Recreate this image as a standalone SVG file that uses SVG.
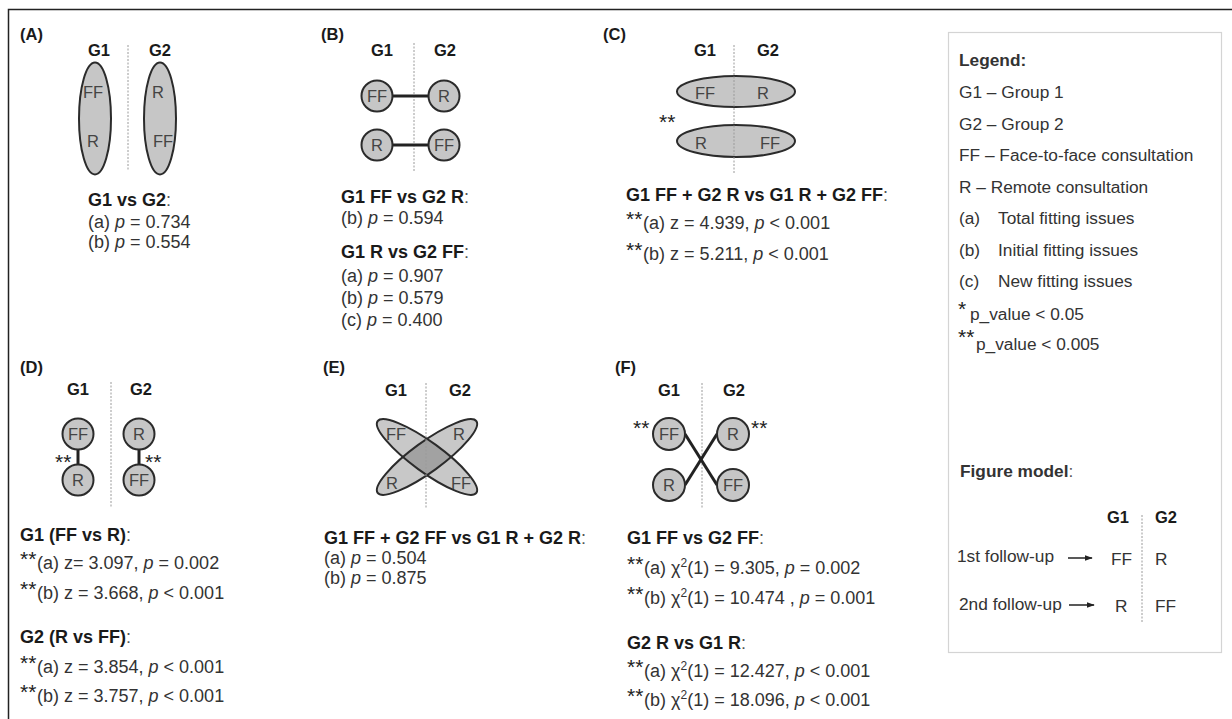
<svg xmlns="http://www.w3.org/2000/svg" width="1232" height="719" viewBox="0 0 1232 719">
<style>
text{font-family:"Liberation Sans",Arial,sans-serif;fill:#333}
.lab{font-size:16.5px;font-weight:bold;fill:#1a1a1a}
.hd{font-size:16.5px;font-weight:bold;fill:#1a1a1a;text-anchor:middle}
.nt{font-size:16.5px;fill:#444}
.ntm{font-size:16.5px;fill:#444;text-anchor:middle}
.tx{font-size:18px}
.ti{font-size:18px;font-weight:bold;fill:#1a1a1a}
.ti tspan.c{font-weight:normal;fill:#555}
.st{font-size:21px;fill:#222}
.lg{font-size:17.3px}
.node{fill:#c6c6c6;stroke:#2b2b2b;stroke-width:2}
.div{stroke:#9a9a9a;stroke-width:1;stroke-dasharray:2 1.5;fill:none}
.conn{stroke:#222;stroke-width:3;fill:none}
.it{font-style:italic}
</style>
<defs>
<marker id="ah" viewBox="0 0 10 10" refX="9" refY="5" markerWidth="8" markerHeight="8" markerUnits="userSpaceOnUse" orient="auto">
<path d="M0,1.5 L10,5 L0,8.5 Z" fill="#222"/>
</marker>
<clipPath id="clipE"><ellipse cx="427" cy="457" rx="61" ry="15" transform="rotate(36 427 457)"/></clipPath>
</defs>
<path d="M8.5,719 V9.5 H1232" fill="none" stroke="#222" stroke-width="1.5"/>

<g id="panelA">
<text class="lab" x="20" y="40">(A)</text>
<text class="hd" x="99" y="56">G1</text>
<text class="hd" x="160" y="56">G2</text>
<line class="div" x1="128" y1="45" x2="128" y2="170"/>
<g id="A-G1"><ellipse class="node" cx="95" cy="118.5" rx="16" ry="56"/><text class="nt" x="83" y="98">FF</text><text class="nt" x="87" y="147">R</text></g>
<g id="A-G2"><ellipse class="node" cx="160" cy="118.5" rx="16" ry="56"/><text class="nt" x="152" y="98">R</text><text class="nt" x="153" y="147">FF</text></g>
<text class="ti" x="88" y="206">G1 vs G2<tspan class="c">:</tspan></text>
<text class="tx" x="88" y="228">(a) <tspan class="it">p</tspan> = 0.734</text>
<text class="tx" x="88" y="248">(b) <tspan class="it">p</tspan> = 0.554</text>
</g>

<g id="panelB">
<text class="lab" x="321" y="40">(B)</text>
<text class="hd" x="382" y="56">G1</text>
<text class="hd" x="445" y="56">G2</text>
<line class="div" x1="414" y1="43" x2="414" y2="172"/>
<g id="B-conn"><line class="conn" x1="392" y1="96" x2="429" y2="96"/><line class="conn" x1="392" y1="145" x2="429" y2="145"/></g>
<g id="B-G1FF"><circle class="node" cx="377" cy="96" r="15.5"/><text class="ntm" x="377" y="102">FF</text></g>
<g id="B-G2R"><circle class="node" cx="444" cy="96" r="15.5"/><text class="ntm" x="444" y="102">R</text></g>
<g id="B-G1R"><circle class="node" cx="377" cy="145" r="15.5"/><text class="ntm" x="377" y="151">R</text></g>
<g id="B-G2FF"><circle class="node" cx="444" cy="145" r="15.5"/><text class="ntm" x="444" y="151">FF</text></g>
<text class="ti" x="341" y="203">G1 FF vs G2 R<tspan class="c">:</tspan></text>
<text class="tx" x="341" y="224">(b) <tspan class="it">p</tspan> = 0.594</text>
<text class="ti" x="341" y="258">G1 R vs G2 FF<tspan class="c">:</tspan></text>
<text class="tx" x="341" y="282">(a) <tspan class="it">p</tspan> = 0.907</text>
<text class="tx" x="341" y="304">(b) <tspan class="it">p</tspan> = 0.579</text>
<text class="tx" x="341" y="326">(c) <tspan class="it">p</tspan> = 0.400</text>
</g>

<g id="panelC">
<text class="lab" x="603" y="40">(C)</text>
<text class="hd" x="705" y="56">G1</text>
<text class="hd" x="768" y="56">G2</text>
<g id="C-top"><ellipse class="node" cx="736" cy="91.5" rx="59" ry="15.5"/><text class="nt" x="695" y="99">FF</text><text class="nt" x="757" y="99">R</text></g>
<g id="C-bot"><ellipse class="node" cx="736" cy="141" rx="59" ry="16"/><text class="nt" x="695" y="149">R</text><text class="nt" x="760" y="149">FF</text></g>
<line class="div" x1="734" y1="45" x2="734" y2="173"/>
<text class="st" x="659" y="129">**</text>
<text class="ti" x="626" y="201">G1 FF + G2 R vs G1 R + G2 FF<tspan class="c">:</tspan></text>
<text class="st" x="626" y="226">**</text><text class="tx" x="643" y="229">(a) z = 4.939,  <tspan class="it">p</tspan> &lt; 0.001</text>
<text class="st" x="626" y="257">**</text><text class="tx" x="643" y="260">(b) z = 5.211,  <tspan class="it">p</tspan> &lt; 0.001</text>
</g>

<g id="legend">
<rect x="948.5" y="32.5" width="273" height="620" fill="none" stroke="#d4d4d4" stroke-width="1.2"/>
<text class="lg" x="959" y="66" font-weight="bold" fill="#1a1a1a">Legend:</text>
<text class="lg" x="959" y="98">G1 – Group 1</text>
<text class="lg" x="959" y="130">G2 – Group 2</text>
<text class="lg" x="959" y="161">FF – Face-to-face consultation</text>
<text class="lg" x="959" y="193">R – Remote  consultation</text>
<text class="lg" x="959" y="224">(a)</text><text class="lg" x="998" y="224">Total  fitting  issues</text>
<text class="lg" x="959" y="256">(b)</text><text class="lg" x="998" y="256">Initial  fitting  issues</text>
<text class="lg" x="959" y="287">(c)</text><text class="lg" x="998" y="287">New  fitting  issues</text>
<text class="st" x="958" y="316">*</text><text class="lg" x="970" y="320">p_value  &lt; 0.05</text>
<text class="st" x="958" y="344">**</text><text class="lg" x="976" y="350">p_value  &lt; 0.005</text>
<text class="lg" x="960" y="477" font-weight="bold" fill="#1a1a1a">Figure model<tspan font-weight="normal" fill="#555">:</tspan></text>
<text class="hd" x="1118" y="523">G1</text>
<text class="hd" x="1166" y="523">G2</text>
<line class="div" x1="1142" y1="515" x2="1142" y2="623"/>
<text class="lg" x="957" y="562">1st follow-up</text>
<text class="lg" x="959" y="610">2nd follow-up</text>
<line x1="1068" y1="558" x2="1092" y2="558" stroke="#222" stroke-width="1.5" marker-end="url(#ah)"/>
<line x1="1069" y1="605" x2="1094" y2="605" stroke="#222" stroke-width="1.5" marker-end="url(#ah)"/>
<text class="lg" x="1111" y="565">FF</text><text class="lg" x="1155" y="565">R</text>
<text class="lg" x="1115" y="612">R</text><text class="lg" x="1155" y="612">FF</text>
</g>

<g id="panelD">
<text class="lab" x="20" y="373">(D)</text>
<text class="hd" x="78" y="395">G1</text>
<text class="hd" x="141" y="395">G2</text>
<line class="div" x1="111" y1="382" x2="111" y2="508"/>
<g id="D-conn"><line class="conn" x1="78" y1="449" x2="78" y2="465"/><line class="conn" x1="139" y1="449" x2="139" y2="465"/></g>
<g id="D-G1FF"><circle class="node" cx="78" cy="434" r="15.5"/><text class="ntm" x="78" y="440">FF</text></g>
<g id="D-G1R"><circle class="node" cx="78" cy="480" r="15.5"/><text class="ntm" x="78" y="486">R</text></g>
<g id="D-G2R"><circle class="node" cx="139" cy="434" r="15.5"/><text class="ntm" x="139" y="440">R</text></g>
<g id="D-G2FF"><circle class="node" cx="139" cy="480" r="15.5"/><text class="ntm" x="139" y="486">FF</text></g>
<text class="st" x="55" y="469">**</text>
<text class="st" x="145" y="469">**</text>
<text class="ti" x="20" y="541">G1 (FF vs R)<tspan class="c">:</tspan></text>
<text class="st" x="20" y="566">**</text><text class="tx" x="37" y="569">(a) z= 3.097,  <tspan class="it">p</tspan> = 0.002</text>
<text class="st" x="20" y="596">**</text><text class="tx" x="37" y="599">(b) z = 3.668,  <tspan class="it">p</tspan> &lt; 0.001</text>
<text class="ti" x="20" y="643">G2 (R vs FF)<tspan class="c">:</tspan></text>
<text class="st" x="20" y="670">**</text><text class="tx" x="37" y="673">(a) z = 3.854,  <tspan class="it">p</tspan> &lt; 0.001</text>
<text class="st" x="20" y="699">**</text><text class="tx" x="37" y="702">(b) z = 3.757,  <tspan class="it">p</tspan> &lt; 0.001</text>
</g>

<g id="panelE">
<text class="lab" x="323" y="373">(E)</text>
<text class="hd" x="396" y="396">G1</text>
<text class="hd" x="460" y="396">G2</text>
<g id="E-ellipses">
<ellipse cx="427" cy="457" rx="61" ry="15" transform="rotate(36 427 457)" fill="#c8c8c8"/>
<ellipse cx="427" cy="457" rx="61" ry="15" transform="rotate(-36 427 457)" fill="#c8c8c8"/>
<g clip-path="url(#clipE)"><ellipse cx="427" cy="457" rx="61" ry="15" transform="rotate(-36 427 457)" fill="#a2a2a2"/></g>
<ellipse cx="427" cy="457" rx="61" ry="15" transform="rotate(36 427 457)" fill="none" stroke="#2b2b2b" stroke-width="2"/>
<ellipse cx="427" cy="457" rx="61" ry="15" transform="rotate(-36 427 457)" fill="none" stroke="#2b2b2b" stroke-width="2"/>
</g>
<line class="div" x1="426" y1="383" x2="426" y2="508"/>
<text class="nt" x="386" y="440">FF</text><text class="nt" x="453" y="440">R</text>
<text class="nt" x="386" y="489">R</text><text class="nt" x="451" y="489">FF</text>
<text class="ti" x="324" y="544">G1 FF + G2 FF vs G1 R + G2 R<tspan class="c">:</tspan></text>
<text class="tx" x="324" y="564">(a) <tspan class="it">p</tspan> = 0.504</text>
<text class="tx" x="324" y="584">(b) <tspan class="it">p</tspan> = 0.875</text>
</g>

<g id="panelF">
<text class="lab" x="615" y="373">(F)</text>
<text class="hd" x="669" y="396">G1</text>
<text class="hd" x="734" y="396">G2</text>
<line class="div" x1="702" y1="383" x2="702" y2="508"/>
<g id="F-conn"><line class="conn" x1="685" y1="434" x2="717" y2="485"/><line class="conn" x1="685" y1="485" x2="717" y2="434"/></g>
<g id="F-G1FF"><circle class="node" cx="669" cy="434" r="16"/><text class="ntm" x="669" y="440">FF</text></g>
<g id="F-G1R"><circle class="node" cx="669" cy="485" r="16"/><text class="ntm" x="669" y="491">R</text></g>
<g id="F-G2R"><circle class="node" cx="733" cy="434" r="16"/><text class="ntm" x="733" y="440">R</text></g>
<g id="F-G2FF"><circle class="node" cx="733" cy="485" r="16"/><text class="ntm" x="733" y="491">FF</text></g>
<text class="st" x="633" y="435">**</text>
<text class="st" x="751" y="435">**</text>
<text class="ti" x="627" y="544">G1 FF vs G2 FF<tspan class="c">:</tspan></text>
<text class="st" x="627" y="571">**</text><text class="tx" x="644" y="574">(a) χ<tspan font-size="12" dy="-7">2</tspan><tspan dy="7">(1) = 9.305,  </tspan><tspan class="it">p</tspan> = 0.002</text>
<text class="st" x="627" y="601">**</text><text class="tx" x="644" y="604">(b) χ<tspan font-size="12" dy="-7">2</tspan><tspan dy="7">(1) = 10.474  ,  </tspan><tspan class="it">p</tspan> = 0.001</text>
<text class="ti" x="627" y="649">G2 R vs G1 R<tspan class="c">:</tspan></text>
<text class="st" x="627" y="674">**</text><text class="tx" x="644" y="677">(a) χ<tspan font-size="12" dy="-7">2</tspan><tspan dy="7">(1) = 12.427,  </tspan><tspan class="it">p</tspan> &lt; 0.001</text>
<text class="st" x="627" y="703">**</text><text class="tx" x="644" y="706">(b) χ<tspan font-size="12" dy="-7">2</tspan><tspan dy="7">(1) = 18.096,  </tspan><tspan class="it">p</tspan> &lt; 0.001</text>
</g>
</svg>
